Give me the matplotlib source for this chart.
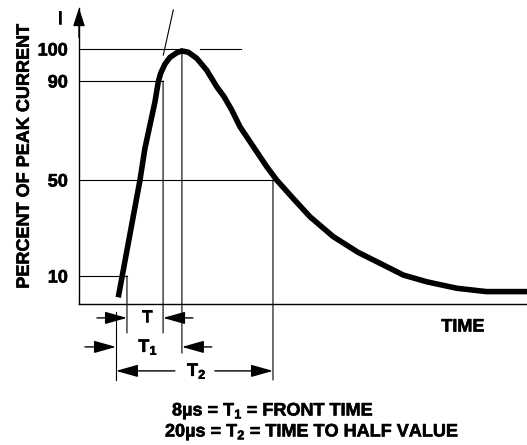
import numpy as np
import matplotlib
matplotlib.use('Agg')
import matplotlib.pyplot as plt
import matplotlib.patheffects as pe

plt.rcParams['font.family'] = ['Liberation Sans', 'DejaVu Sans']
plt.rcParams['font.weight'] = 'bold'
plt.rcParams['mathtext.fontset'] = 'custom'
plt.rcParams['mathtext.rm'] = 'Liberation Sans:bold'
plt.rcParams['mathtext.it'] = 'Liberation Sans:bold'
plt.rcParams['mathtext.bf'] = 'Liberation Sans:bold'

# ---------------- data (time in microseconds, current in % of peak) ----------------
time_us = [0.29, 3.06, 3.69, 4.33, 4.97, 5.39, 5.69, 6.24, 6.88, 7.73, 8.37, 9.21,
           10.28, 11.55, 12.83, 13.76, 14.74, 15.8, 17.49, 19.2, 20.47, 22.55,
           24.71, 27.68, 30.87, 33.63, 36.6, 39.58, 43.4, 47.2, 52.36]
current_pct = [1.1, 50, 62.8, 72.2, 81.6, 89.7, 92.4, 95.3, 97.4, 98.8, 99.4, 99.0,
               97.1, 93.4, 87.7, 83.7, 78.3, 71.5, 63.5, 55.4, 50, 42.4,
               34.7, 26.4, 19.8, 15.3, 10.4, 7.6, 4.9, 3.5, 3.5]

tick_pct = [10, 50, 90, 100]
tick_labels = ['10', '50', '90', '100']

t_origin = 0.0     # virtual origin O1
t_10 = 1.4         # 10 % crossing
t_90 = 6.0         # 90 % crossing
t_peak = 8.4       # peak (end of T1)
t_half = 20.0      # half value (end of T2)

tangent_t = [7.30, 6.03]
tangent_pct = [112.2, 98.1]
peak_line2_t = [10.7, 15.9]

x_range = (-4.71, 52.36)

# non-uniform vertical scale of the schematic
scale_pct = [-60, 10, 50, 90, 100, 130]
scale_h = [-140, 28, 124, 223, 255, 351]


def fwd(p):
    return np.interp(p, scale_pct, scale_h)


def inv(h):
    return np.interp(h, scale_h, scale_pct)


heavy = [pe.withStroke(linewidth=0.4, foreground='black')]

# ---------------- figure ----------------
W, H = 527, 445
fig = plt.figure(figsize=(W / 100, H / 100), dpi=100)
ax = fig.add_axes([79 / W, 141 / H, 448 / W, 296 / H])
ax.set_yscale('function', functions=(fwd, inv))
ax.set_xlim(*x_range)
ax.set_ylim(float(inv(0)), float(inv(296)))

for s in ('top', 'right'):
    ax.spines[s].set_visible(False)
for s in ('left', 'bottom'):
    ax.spines[s].set_linewidth(1.0)
    ax.spines[s].set_color('black')

ax.set_xticks([])
ax.set_yticks(tick_pct, tick_labels)
ax.yaxis.set_minor_locator(matplotlib.ticker.NullLocator())
ax.tick_params(axis='y', length=0, pad=8, labelsize=13)
for lab in ax.get_yticklabels():
    lab.set_fontweight('bold')
    lab.set_path_effects(heavy)

ylab = ax.set_ylabel('PERCENT OF PEAK CURRENT', fontsize=13, fontweight='bold',
                     ha='center', va='center')
ylab.set_path_effects(heavy)
ax.yaxis.set_label_coords(-0.122, 0.5)

# y axis arrow head
arrow_style = '-|>,head_length=1.35,head_width=0.38'
ax.annotate('', xy=(0, 1), xytext=(0, 0.9), xycoords='axes fraction',
            arrowprops=dict(arrowstyle='-|>,head_length=1.1,head_width=0.36',
                            mutation_scale=10, lw=1,
                            color='black', shrinkA=0, shrinkB=0),
            annotation_clip=False)

lw_thin = 0.8
x0 = x_range[0]
# horizontal guide lines
ax.plot([x0, t_10], [10, 10], color='black', lw=lw_thin)
ax.plot([x0, t_90], [90, 90], color='black', lw=lw_thin)
ax.plot([x0, t_half], [50, 50], color='black', lw=lw_thin)
ax.plot([x0, t_peak], [100, 100], color='black', lw=lw_thin)
ax.plot(peak_line2_t, [100, 100], color='black', lw=lw_thin)
ax.plot(tangent_t, tangent_pct, color='black', lw=lw_thin, clip_on=False)

trans = ax.get_xaxis_transform()


def vline(t, level, frac_bottom):
    ax.annotate('', xy=(t, level), xycoords='data', xytext=(t, frac_bottom),
                textcoords=trans,
                arrowprops=dict(arrowstyle='-', lw=lw_thin, color='black',
                                shrinkA=0, shrinkB=0),
                annotation_clip=False)


vline(t_10, 10, -0.098)
vline(t_90, 90, -0.098)
vline(t_peak, 100, -0.166)
vline(t_half, 50, -0.257)
ax.plot([t_origin, t_origin], [-0.027, -0.257], color='black', lw=lw_thin,
        transform=trans, clip_on=False)


def harrow(tail, tip, row):
    ax.annotate('', xy=(tip, row), xytext=(tail, row), xycoords=trans,
                textcoords=trans,
                arrowprops=dict(arrowstyle=arrow_style, mutation_scale=10, lw=1,
                                color='black', shrinkA=0, shrinkB=0),
                annotation_clip=False)


row_T, row_T1, row_T2 = -0.047, -0.145, -0.226
harrow(-2.42, t_10, row_T)
harrow(9.8, t_90, row_T)
harrow(-3.95, t_origin, row_T1)
harrow(12.2, t_peak, row_T1)
harrow(7.5, t_origin, row_T2)
harrow(12.6, t_half, row_T2)

for tx, row, s in [(3.95, row_T, 'T'), (4.1, row_T1, 'T$_1$'),
                   (10.3, row_T2, 'T$_2$')]:
    ax.text(tx, row, s, transform=trans, ha='center', va='center',
            fontsize=13, fontweight='bold', path_effects=heavy)

# the waveform
ax.plot(time_us, current_pct, color='black', lw=4, solid_joinstyle='round',
        solid_capstyle='butt', zorder=3, clip_on=False)

# other texts
fig.text(60 / W, 1 - 19 / H, 'I', ha='center', va='center', fontsize=13,
         fontweight='bold', path_effects=heavy)
fig.text(463 / W, 1 - 327 / H, 'TIME', ha='center', va='center', fontsize=13,
         fontweight='bold', path_effects=heavy)
fig.text(172 / W, 1 - 411 / H, '8\u00b5s = T$_1$ = FRONT TIME', ha='left',
         va='center', fontsize=13, fontweight='bold', path_effects=heavy)
fig.text(165 / W, 1 - 432 / H, '20\u00b5s = T$_2$ = TIME TO HALF VALUE',
         ha='left', va='center', fontsize=13, fontweight='bold', path_effects=heavy)

fig.savefig('out.png', dpi=100, facecolor='white')
